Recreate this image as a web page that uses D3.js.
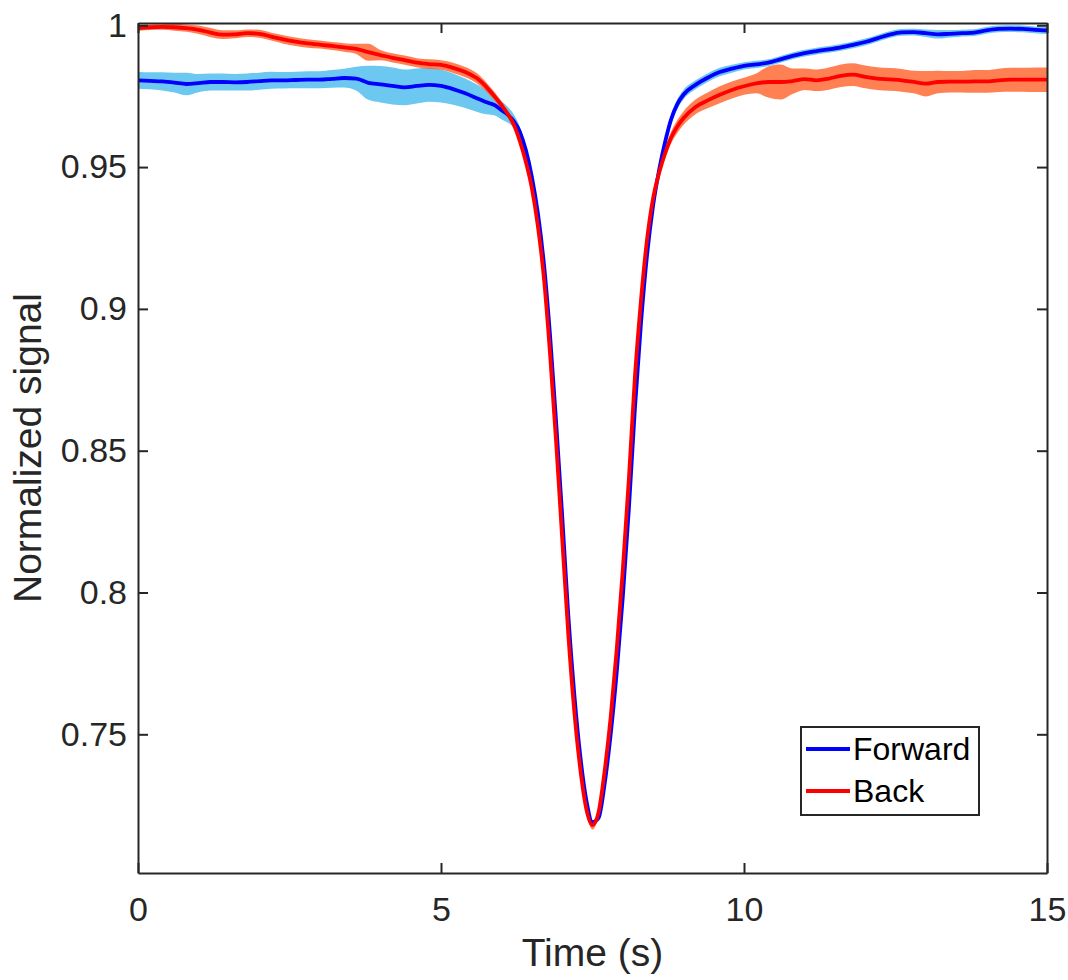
<!DOCTYPE html>
<html>
<head>
<meta charset="utf-8">
<script src="https://cdn.jsdelivr.net/npm/d3@7"></script>
<style>
  body { margin: 0; background: #fff; }
  text { font-family: "Liberation Sans", Arial, Helvetica, sans-serif; }
</style>
</head>
<body>
<div id="chart"></div>
<script>
// time samples (s)
const time = [
  0, 0.2, 0.4, 0.6, 0.8, 1.0, 1.2, 1.4, 1.6, 1.8, 2.0, 2.2, 2.4, 2.6, 2.8, 3.0, 3.2, 3.4, 3.6, 3.8,
  4.0, 4.2, 4.4, 4.6, 4.8, 5.0, 5.2, 5.4,
  5.6, 5.7, 5.8, 5.9, 6.0, 6.1, 6.2, 6.3, 6.4, 6.5, 6.6, 6.7, 6.8, 6.9, 7.0, 7.1, 7.2, 7.3, 7.4, 7.5,
  7.6, 7.7, 7.8, 7.9, 8.0, 8.1, 8.2, 8.3, 8.4, 8.5, 8.6, 8.7, 8.8, 8.9, 9.0,
  9.2, 9.4, 9.6, 9.8, 10.0, 10.2, 10.4, 10.6, 10.8, 11.0, 11.2, 11.4, 11.6, 11.8, 12.0, 12.2, 12.4,
  12.6, 12.8, 13.0, 13.2, 13.4, 13.6, 13.8, 14.0, 14.2, 14.4, 14.6, 14.8, 15.0
];

const forward = [
  0.9806, 0.9804, 0.9802, 0.9798, 0.9793, 0.9796, 0.9800, 0.9800, 0.9799, 0.9800, 0.9803, 0.9806, 0.9806, 0.9807,
  0.9808, 0.9808, 0.9811, 0.9814, 0.9812, 0.9797, 0.9792, 0.9786, 0.9781, 0.9786, 0.9790, 0.9786, 0.9775, 0.9760,
  0.9742, 0.9733, 0.9725, 0.9717, 0.9700, 0.9685, 0.9662, 0.9625, 0.9560, 0.9465, 0.9335, 0.9155, 0.8905, 0.8600,
  0.8270, 0.7920, 0.7640, 0.7420, 0.7265, 0.7190, 0.7205, 0.7325, 0.7500, 0.7720, 0.7985, 0.8295, 0.8650, 0.8950,
  0.9190, 0.9365, 0.9490, 0.9590, 0.9670, 0.9722, 0.9755,
  0.9790, 0.9815, 0.9835, 0.9847, 0.9857, 0.9862, 0.9868, 0.9880, 0.9892, 0.9902, 0.9909, 0.9915, 0.9922, 0.9931,
  0.9941, 0.9954, 0.9967, 0.9975, 0.9976, 0.9972, 0.9968, 0.9970, 0.9972, 0.9974, 0.9982, 0.9987, 0.9988, 0.9987,
  0.9984, 0.9982
];

const forwardErr = [
  0.0030, 0.0030, 0.0032, 0.0035, 0.0040, 0.0032, 0.0030, 0.0030, 0.0029, 0.0030, 0.0030, 0.0030, 0.0029, 0.0029,
  0.0030, 0.0030, 0.0031, 0.0033, 0.0042, 0.0060, 0.0064, 0.0065, 0.0063, 0.0062, 0.0060, 0.0058, 0.0055, 0.0052,
  0.0048, 0.0045, 0.0040, 0.0036, 0.0032, 0.0028, 0.0024, 0.0018, 0.0014, 0.0012, 0.0010,
  0.0008, 0.0008, 0.0008, 0.0008, 0.0008, 0.0008, 0.0008, 0.0008, 0.0008, 0.0008, 0.0008, 0.0008, 0.0008, 0.0008,
  0.0008, 0.0008, 0.0008,
  0.0010, 0.0012, 0.0014, 0.0016, 0.0017, 0.0017, 0.0017,
  0.0016, 0.0015, 0.0015, 0.0014, 0.0013, 0.0013, 0.0012, 0.0012, 0.0012, 0.0012, 0.0012, 0.0012, 0.0012, 0.0012,
  0.0012, 0.0012, 0.0012, 0.0012, 0.0012, 0.0013, 0.0015, 0.0013, 0.0012, 0.0012, 0.0012, 0.0012, 0.0012, 0.0012,
  0.0012, 0.0013
];

const back = [
  0.9990, 0.9993, 0.9994, 0.9993, 0.9990, 0.9984, 0.9974, 0.9967, 0.9968, 0.9972, 0.9970, 0.9960, 0.9950, 0.9942,
  0.9936, 0.9932, 0.9927, 0.9922, 0.9917, 0.9905, 0.9895, 0.9885, 0.9877, 0.9868, 0.9863, 0.9860, 0.9850, 0.9835,
  0.9812, 0.9793, 0.9770, 0.9745, 0.9718, 0.9688, 0.9650, 0.9592, 0.9518, 0.9425, 0.9290, 0.9105, 0.8840, 0.8530,
  0.8190, 0.7855, 0.7580, 0.7375, 0.7235, 0.7180, 0.7225, 0.7370, 0.7560, 0.7800, 0.8080, 0.8400, 0.8760, 0.9030,
  0.9245, 0.9390, 0.9480, 0.9550, 0.9605, 0.9643, 0.9672,
  0.9712, 0.9735, 0.9755, 0.9772, 0.9785, 0.9795, 0.9800, 0.9800, 0.9803, 0.9810, 0.9806, 0.9812, 0.9822, 0.9826,
  0.9818, 0.9812, 0.9809, 0.9806, 0.9800, 0.9794, 0.9800, 0.9801, 0.9801, 0.9802, 0.9802, 0.9806, 0.9808, 0.9808,
  0.9808, 0.9808
];

const backErr = [
  0.0010, 0.0010, 0.0010, 0.0012, 0.0013, 0.0015, 0.0016, 0.0015, 0.0014, 0.0013, 0.0014, 0.0014, 0.0015, 0.0015,
  0.0015, 0.0014, 0.0014, 0.0015, 0.0018, 0.0030, 0.0018, 0.0016, 0.0016, 0.0016, 0.0017, 0.0017, 0.0018, 0.0018,
  0.0018, 0.0017, 0.0016, 0.0015, 0.0013, 0.0012, 0.0011, 0.0010, 0.0009, 0.0008, 0.0008,
  0.0008, 0.0008, 0.0008, 0.0008, 0.0008, 0.0008, 0.0008,
  0.0010, 0.0016, 0.0010,
  0.0008, 0.0008, 0.0008, 0.0008, 0.0008, 0.0008, 0.0008,
  0.0010, 0.0013, 0.0016, 0.0019, 0.0021, 0.0023, 0.0024,
  0.0026, 0.0028, 0.0030, 0.0030, 0.0030, 0.0035, 0.0055, 0.0062, 0.0045, 0.0038, 0.0038, 0.0039, 0.0040, 0.0040,
  0.0040, 0.0040, 0.0040, 0.0040, 0.0040, 0.0045, 0.0040, 0.0038, 0.0038, 0.0040, 0.0040, 0.0041, 0.0042, 0.0042,
  0.0043, 0.0043
];

const xTicks = [0, 5, 10, 15];
const yTicks = [0.75, 0.8, 0.85, 0.9, 0.95, 1];
const seriesNames = ['Forward', 'Back'];

const width = 1068, height = 980;
const margin = { top: 23, right: 21, bottom: 107, left: 138 };
const axisColor = '#262626';

const x = d3.scaleLinear().domain([0, 15]).range([margin.left, width - margin.right]);
const y = d3.scaleLinear().domain([0.7011, 1.0008]).range([height - margin.bottom, margin.top]);

const series = [
  { name: seriesNames[0], mean: forward, err: forwardErr, line: '#0000ff', band: '#6cc8f0', alpha: 1 },
  { name: seriesNames[1], mean: back, err: backErr, line: '#ff0000', band: '#ff6028', alpha: 0.8 },
];
series.forEach((s) => {
  s.points = time.map((t, i) => ({ t, m: s.mean[i], e: s.err[i] }));
});

const svg = d3.select('#chart').append('svg')
  .attr('width', width)
  .attr('height', height);

const area = d3.area()
  .curve(d3.curveMonotoneX)
  .x((d) => x(d.t))
  .y0((d) => y(d.m - d.e))
  .y1((d) => y(d.m + d.e));

const line = d3.line()
  .curve(d3.curveMonotoneX)
  .x((d) => x(d.t))
  .y((d) => y(d.m));

const plot = svg.append('g');

plot.selectAll('.band')
  .data(series)
  .join('path')
  .attr('class', 'band')
  .attr('d', (d) => area(d.points))
  .attr('fill', (d) => d.band)
  .attr('fill-opacity', (d) => d.alpha)
  .attr('stroke', 'none');

plot.selectAll('.mean')
  .data(series)
  .join('path')
  .attr('class', 'mean')
  .attr('d', (d) => line(d.points))
  .attr('fill', 'none')
  .attr('stroke', (d) => d.line)
  .attr('stroke-width', 3.8)
  .attr('stroke-linejoin', 'round');

// axes, box style with inward ticks
const fmt = d3.format('~g');
const styleAxis = (g) => {
  g.select('.domain').attr('stroke', axisColor).attr('stroke-width', 2);
  g.selectAll('.tick line').attr('stroke', axisColor).attr('stroke-width', 2);
  g.selectAll('.tick text').attr('fill', axisColor).style('font-size', '34px');
};

svg.append('g')
  .attr('transform', `translate(0,${height - margin.bottom})`)
  .call(d3.axisBottom(x).tickValues(xTicks).tickSizeInner(-10).tickSizeOuter(0).tickPadding(24).tickFormat(fmt))
  .call(styleAxis);

svg.append('g')
  .attr('transform', `translate(0,${margin.top})`)
  .call(d3.axisTop(x).tickValues(xTicks).tickSizeInner(-10).tickSizeOuter(0).tickFormat(''))
  .call(styleAxis);

svg.append('g')
  .attr('transform', `translate(${margin.left},0)`)
  .call(d3.axisLeft(y).tickValues(yTicks).tickSizeInner(-10).tickSizeOuter(0).tickPadding(11).tickFormat(fmt))
  .call(styleAxis);

svg.append('g')
  .attr('transform', `translate(${width - margin.right},0)`)
  .call(d3.axisRight(y).tickValues(yTicks).tickSizeInner(-10).tickSizeOuter(0).tickFormat(''))
  .call(styleAxis);

// axis titles
svg.append('text')
  .attr('x', (x.range()[0] + x.range()[1]) / 2)
  .attr('y', 966)
  .attr('text-anchor', 'middle')
  .attr('fill', axisColor)
  .style('font-size', '39px')
  .text('Time (s)');

svg.append('text')
  .attr('transform', `translate(41,${(y.range()[0] + y.range()[1]) / 2}) rotate(-90)`)
  .attr('text-anchor', 'middle')
  .attr('fill', axisColor)
  .style('font-size', '39px')
  .text('Normalized signal');

// legend
const legend = svg.append('g').attr('transform', 'translate(801,727)');
legend.append('rect')
  .attr('width', 178)
  .attr('height', 88)
  .attr('fill', '#fff')
  .attr('stroke', axisColor)
  .attr('stroke-width', 2);

const item = legend.selectAll('.item')
  .data(series)
  .join('g')
  .attr('class', 'item')
  .attr('transform', (d, i) => `translate(0,${22 + i * 42})`);

item.append('line')
  .attr('x1', 5)
  .attr('x2', 49)
  .attr('stroke', (d) => d.line)
  .attr('stroke-width', 3.8);

item.append('text')
  .attr('x', 52)
  .attr('dy', '0.35em')
  .attr('fill', '#000')
  .style('font-size', '32px')
  .text((d) => d.name);
</script>
</body>
</html>
